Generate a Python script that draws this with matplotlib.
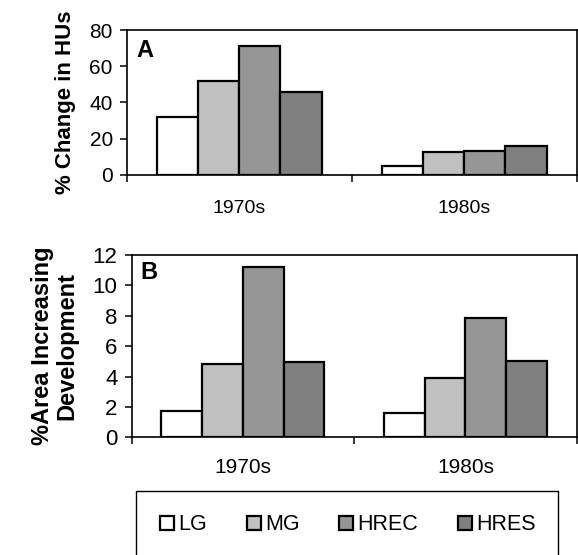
import numpy as np
import matplotlib.pyplot as plt
from matplotlib.patches import Patch, Rectangle

plt.rcParams['font.family'] = ['Liberation Sans', 'DejaVu Sans']

decades = ['1970s', '1980s']
classes = ['LG', 'MG', 'HREC', 'HRES']
colors = ['#FFFFFF', '#C0C0C0', '#969696', '#808080']

# % change in housing units (panel A)
hu_change = {
    'LG': [31.7, 4.8],
    'MG': [51.6, 12.4],
    'HREC': [71.3, 13.1],
    'HRES': [45.7, 16.0],
}
# % area with increasing development (panel B)
area_dev = {
    'LG': [1.75, 1.58],
    'MG': [4.8, 3.88],
    'HREC': [11.23, 7.87],
    'HRES': [4.94, 5.02],
}

W, H = 578, 555
fig = plt.figure(figsize=(W / 100, H / 100), dpi=100)


def px_axes(left, top, right, bottom):
    return fig.add_axes([left / W, 1 - bottom / H, (right - left) / W, (bottom - top) / H])


def draw_panel(ax, data, ymax, ystep, ytick_size, xtick_size, xpad):
    x = np.arange(len(decades))
    bw = 0.183
    for i, c in enumerate(classes):
        ax.bar(x + (i - 1.5) * bw, data[c], width=bw, color=colors[i],
               edgecolor='black', linewidth=1.6, zorder=3)
    ax.set_xlim(-0.5, 1.5)
    ax.set_ylim(0, ymax)
    ax.set_yticks(np.arange(0, ymax + 0.1, ystep))
    ax.tick_params(axis='y', direction='out', length=5, width=1.1,
                   labelsize=ytick_size, pad=5)
    ax.set_xticks([-0.5, 0.5, 1.5])
    ax.set_xticklabels([])
    ax.tick_params(axis='x', which='major', direction='out', length=5, width=1.1)
    ax.set_xticks(x, minor=True)
    ax.set_xticklabels(decades, minor=True)
    ax.tick_params(axis='x', which='minor', length=0, labelsize=xtick_size, pad=xpad)
    for s in ax.spines.values():
        s.set_linewidth(1.2)


axA = px_axes(126.7, 30, 576.8, 174.7)
draw_panel(axA, hu_change, 80, 20, 15, 14, 18)
axA.set_ylabel('% Change in HUs', fontsize=16, fontweight='bold', labelpad=10)

axB = px_axes(131.5, 255, 576.8, 437.3)
draw_panel(axB, area_dev, 12, 2, 16, 15, 15)
axB.set_ylabel('%Area Increasing\nDevelopment', fontsize=17, fontweight='bold',
               labelpad=10, linespacing=1.1)

fig.text(136 / W, 1 - 57.3 / H, 'A', fontsize=17, fontweight='bold', va='baseline')
fig.text(140.7 / W, 1 - 279.3 / H, 'B', fontsize=17, fontweight='bold', va='baseline')

# legend box runs off the bottom edge
fig.patches.append(Rectangle((136 / W, -0.05), (557.7 - 136) / W, (0.05 + 1 - 491 / H),
                             transform=fig.transFigure, fill=False,
                             edgecolor='black', linewidth=1.0))
handles = [Patch(facecolor=colors[i], edgecolor='black', linewidth=1.6, label=c)
           for i, c in enumerate(classes)]
fig.legend(handles=handles, loc='center', bbox_to_anchor=(347.9 / W, 1 - 525 / H),
           ncol=4, frameon=False, fontsize=15.5, handlelength=0.65, handleheight=0.65,
           handletextpad=0.2, columnspacing=1.85)

fig.savefig('out.png', dpi=100)
